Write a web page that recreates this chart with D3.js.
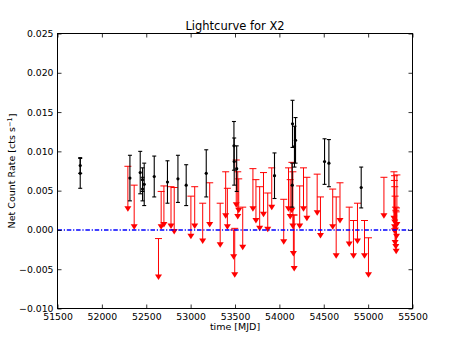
<!DOCTYPE html>
<html><head><meta charset="utf-8">
<script src="https://cdn.jsdelivr.net/npm/d3@7"></script>
<style>
body{margin:0;background:#fff}
svg{display:block}
text{font-family:"DejaVu Sans",sans-serif;fill:#000}
</style>
</head><body>
<svg id="c" width="458" height="343"></svg>
<script>
// Detections (black points with error bars)
const detMJD  = [51756, 51756, 52316, 52432, 52458, 52458, 52477, 52590, 52739, 52857, 52950, 53176,
                 53488, 53491, 53519, 53945, 54148, 54182, 54170, 54145, 54509, 54558, 54922];
const detRate = [0.0082, 0.0072, 0.0066, 0.0073, 0.0064, 0.0052, 0.0058, 0.0068, 0.0061, 0.0065, 0.0057, 0.0072,
                 0.0107, 0.0087, 0.0078, 0.0069, 0.0135, 0.0114, 0.0106, 0.0057, 0.0087, 0.0085, 0.0054];
const detErr  = [0.0010, 0.0019, 0.0029, 0.0027, 0.0015, 0.0015, 0.0027, 0.0026, 0.0027, 0.0030, 0.0026, 0.0030,
                 0.0031, 0.0030, 0.0029, 0.0029, 0.0030, 0.0029, 0.0026, 0.0028, 0.0029, 0.0030, 0.0026];

// Upper limits (red): cap value and arrow value
const ulMJD    = [52293, 52364, 52638, 52668, 52699, 52779, 52815, 53003, 53046, 53136, 53215, 53333,
                  53395, 53414, 53485, 53497, 53514, 53531, 53542, 53587, 53702, 53736, 53778, 53821,
                  53869, 53914, 54049, 54103, 54122, 54141, 54152, 54158, 54167, 54229, 54272, 54310,
                  54426, 54463, 54601, 54640, 54683, 54787, 54835, 54880, 54959, 55004, 55178,
                  55291, 55296, 55298, 55300, 55304, 55308, 55312, 55316, 55320, 55324];
const ulTop    = [0.0081, 0.0057, -0.0011, 0.0049, 0.0056, 0.0055, 0.0054, 0.0043, 0.0055, 0.0034, 0.0060, 0.0034,
                  0.0074, 0.0053, 0.0000, 0.0002, 0.0089, 0.0074, 0.0065, 0.0029, 0.0078, 0.0064, 0.0055, 0.0073,
                  0.0047, 0.0079, 0.0039, 0.0079, 0.0064, 0.0086, 0.0074, 0.0019, 0.0019, 0.0056, 0.0079, 0.0067,
                  0.0071, 0.0042, 0.0052, 0.0042, 0.0060, 0.0029, 0.0012, 0.0034, 0.0012, -0.0010, 0.0067,
                  0.0074, 0.0063, 0.0069, 0.0055, 0.0043, 0.0029, 0.0025, 0.0023, 0.0028, 0.0070];
const ulBottom = [0.0027, 0.0004, -0.0060, 0.0004, 0.0007, 0.0005, -0.0002, -0.0008, 0.0005, -0.0014, 0.0007, -0.0019,
                  0.0018, 0.0004, -0.0034, -0.0057, 0.0032, 0.0017, 0.0025, -0.0022, 0.0027, 0.0012, 0.0002, 0.0020,
                  0.0001, 0.0029, -0.0015, 0.0027, 0.0017, 0.0025, 0.0005, -0.0030, -0.0049, 0.0005, 0.0027, 0.0015,
                  0.0022, -0.0007, 0.0004, -0.0033, 0.0012, -0.0018, -0.0033, -0.0014, -0.0033, -0.0057, 0.0018,
                  0.0015, -0.0001, 0.0004, 0.0010, -0.0016, 0.0000, -0.0021, -0.0027, -0.0008, 0.0007];

const xTicks = [51500, 52000, 52500, 53000, 53500, 54000, 54500, 55000, 55500];
const yTicks = [-0.010, -0.005, 0.000, 0.005, 0.010, 0.015, 0.020, 0.025];

const svg = d3.select("#c");
const L = 57.5, R = 412.5, T = 33.5, B = 308.5;
const x = d3.scaleLinear().domain([51500, 55500]).range([L, R]);
const y = d3.scaleLinear().domain([-0.010, 0.025]).range([B, T]);

svg.append("rect").attr("width", 458).attr("height", 343).attr("fill", "#fff");

// Upper limits
const ul = svg.append("g").attr("stroke", "#ff0000").attr("stroke-width", 1);
ulMJD.forEach((m, i) => {
  const cx = x(m);
  ul.append("line").attr("x1", cx).attr("x2", cx).attr("y1", y(ulTop[i])).attr("y2", y(ulBottom[i]));
  ul.append("line").attr("x1", cx - 3.5).attr("x2", cx + 3.5).attr("y1", y(ulTop[i])).attr("y2", y(ulTop[i]));
  svg.append("path").attr("d", "M-3.5,-2.5L3.5,-2.5L0,3Z")
    .attr("transform", `translate(${cx},${y(ulBottom[i])})`).attr("fill", "#ff0000");
});

// Detections
const det = svg.append("g").attr("stroke", "#000").attr("stroke-width", 1.1);
detMJD.forEach((m, i) => {
  const cx = x(m), y1 = y(detRate[i] + detErr[i]), y0 = y(detRate[i] - detErr[i]);
  det.append("line").attr("x1", cx).attr("x2", cx).attr("y1", y1).attr("y2", y0);
  det.append("line").attr("x1", cx - 2).attr("x2", cx + 2).attr("y1", y1).attr("y2", y1);
  det.append("line").attr("x1", cx - 2).attr("x2", cx + 2).attr("y1", y0).attr("y2", y0);
  svg.append("circle").attr("cx", cx).attr("cy", y(detRate[i])).attr("r", 1.6).attr("fill", "#000");
});

// zero line
svg.append("line").attr("x1", L).attr("x2", R).attr("y1", y(0)).attr("y2", y(0))
  .attr("stroke", "#0000ff").attr("stroke-width", 1.5).attr("stroke-dasharray", "4.5,1.8,1.2,1.8");

// axes
const fs = "9.3px";
const gB = svg.append("g").attr("transform", `translate(0,${B})`)
  .call(d3.axisBottom(x).tickValues(xTicks).tickSize(-4).tickPadding(5).tickFormat(d3.format("d")));
const gT = svg.append("g").attr("transform", `translate(0,${T})`)
  .call(d3.axisTop(x).tickValues(xTicks).tickSize(-4).tickFormat(""));
const gL = svg.append("g").attr("transform", `translate(${L},0)`)
  .call(d3.axisLeft(y).tickValues(yTicks).tickSize(-4).tickPadding(4).tickFormat(d3.format(".3f")));
const gR = svg.append("g").attr("transform", `translate(${R},0)`)
  .call(d3.axisRight(y).tickValues(yTicks).tickSize(-4).tickFormat(""));
[gB, gT, gL, gR].forEach(g => {
  g.select(".domain").remove();
  g.selectAll("line").attr("stroke", "#000").attr("stroke-width", 0.8);
  g.selectAll("text").style("font-family", '"DejaVu Sans",sans-serif').style("font-size", fs).attr("fill", "#000");
});

svg.append("rect").attr("x", L).attr("y", T).attr("width", R - L).attr("height", B - T)
  .attr("fill", "none").attr("stroke", "#000").attr("stroke-width", 1);

// titles
svg.append("text").attr("x", (L + R) / 2).attr("y", 30).attr("text-anchor", "middle")
  .style("font-size", "11.5px").text("Lightcurve for X2");
svg.append("text").attr("x", (L + R) / 2).attr("y", 330).attr("text-anchor", "middle")
  .style("font-size", "9.5px").text("time [MJD]");
const yl = svg.append("text").attr("transform", `translate(14.5,${(T + B) / 2}) rotate(-90)`)
  .attr("text-anchor", "middle").style("font-size", "9.5px");
yl.append("tspan").text("Net Count Rate [cts s");
yl.append("tspan").attr("dy", "-0.4em").style("font-size", "6.6px").text("\u22121");
yl.append("tspan").attr("dy", "0.4em").text("]");
</script>
</body></html>
